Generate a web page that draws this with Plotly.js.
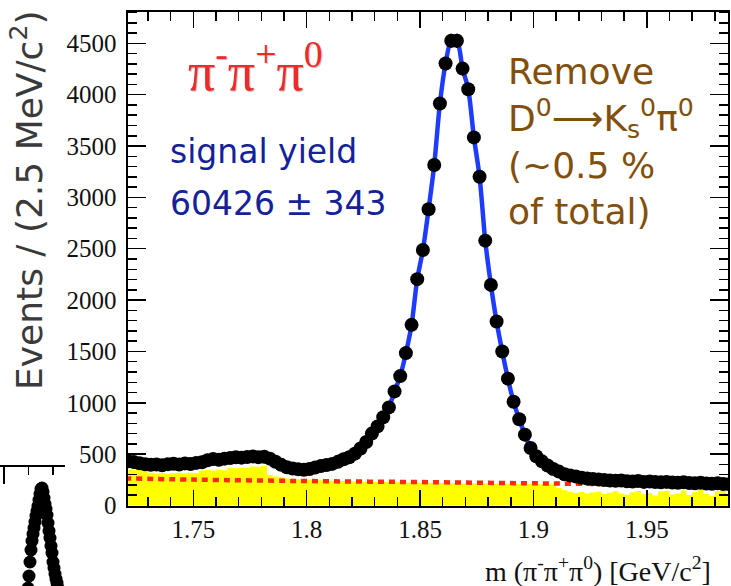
<!DOCTYPE html>
<html>
<head>
<meta charset="utf-8">
<script src="https://cdn.plot.ly/plotly-3.0.1.min.js"></script>
<style>
  html, body { margin: 0; padding: 0; background: #ffffff; }
  #chart { width: 731px; height: 586px; }
</style>
</head>
<body>
<div id="chart"></div>
<script>
// ---- histogram binning (2.5 MeV bins starting at 1.72 GeV) ----
const binStart = 1.72;
const binWidth = 0.0025;

// ---- data: events per bin ----
const counts = [
  430, 424, 412, 402, 396, 399, 392, 401, 406, 398,
  410, 403, 415, 421, 440, 452, 446, 456, 462, 470,
  466, 472, 478, 471, 475, 456, 426, 396, 372, 360,
  352, 348, 355, 370, 385, 395, 405, 425, 450, 470,
  505, 555, 618, 700, 770, 860, 955, 1111, 1260, 1484,
  1759, 2204, 2488, 2884, 3315, 3914, 4303, 4525, 4525, 4254,
  4053, 3584, 3201, 2579, 2148, 1791, 1500, 1235, 1010, 840,
  690, 560, 479, 430, 390, 355, 330, 305, 292, 282,
  270, 263, 258, 252, 248, 244, 240, 244, 236, 234,
  238, 230, 233, 228, 226, 230, 224, 221, 226, 219,
  217, 221, 214, 212, 216, 210, 208
];

// ---- yellow background histogram per bin ----
const bkgHist = [
  345, 348, 362, 358, 318, 312, 316, 310, 314, 318,
  312, 320, 316, 342, 346, 340, 348, 344, 364, 362,
  368, 366, 380, 378, 384, 300, 282, 276, 262, 258,
  255, 252, 250, 248, 246, 244, 242, 240, 238, 236,
  234, 233, 232, 231, 230, 229, 228, 227, 226, 225,
  224, 223, 222, 221, 220, 219, 218, 217, 216, 215,
  215, 214, 214, 213, 213, 212, 212, 211, 211, 210,
  210, 209, 209, 208, 208, 207, 170, 148, 132, 122,
  134, 118, 126, 134, 112, 124, 138, 116, 104, 128,
  142, 110, 122, 98, 136, 144, 108, 118, 146, 102,
  128, 150, 112, 96, 138, 148, 110
];

// ---- red dotted component (read at a few masses) ----
const redMass  = [1.715, 1.75, 1.80, 1.85, 1.90, 1.95, 1.99];
const redLevel = [266, 252, 238, 228, 216, 206, 200];

// ---- partial neighbouring plot visible at bottom-left ----
const insetX = [27,28,29,30,31,32,33,34,35,36,37,38,39,40,41,42,43,44,45,46,47,48,49,50,51,52,53,54,55,56,57,58];
const insetY = [-8,-2,10,24,36,45,52,58,64,70,75,80,86,92,97,98,94,88,82,77,71,63,55,48,40,33,24,18,12,7,3,-2];

// ---- tick settings ----
const xTick0 = 1.75, xDtick = 0.05, xMinor = 0.01;
const yDtick = 500, yMinor = 100;

const massBins = counts.map((_, i) => +(binStart + binWidth * (i + 0.5)).toFixed(5));

const W = 731, H = 586;
const px = v => v / W;
const py = v => 1 - v / H;

const traces = [
  { // yellow background histogram
    x: massBins, y: bkgHist, type: 'scatter', mode: 'lines',
    line: { shape: 'hvh', width: 0, color: '#ffff00' },
    fill: 'tozeroy', fillcolor: '#ffff00', hoverinfo: 'skip'
  },
  { // red dotted component
    x: redMass, y: redLevel, type: 'scatter', mode: 'lines',
    line: { color: '#ff2a10', width: 4.5, dash: '6px,5px', shape: 'spline' }
  },
  { // blue total fit curve
    x: massBins, y: counts, type: 'scatter', mode: 'lines',
    line: { color: '#1e3cff', width: 4.5, shape: 'spline', smoothing: 0.8 }
  },
  { // data points
    x: massBins, y: counts, type: 'scatter', mode: 'markers',
    marker: { color: '#000000', size: 14, symbol: 'circle' },
    error_y: { type: 'sqrt', color: '#000000', thickness: 2, width: 0 }
  },
  { // neighbouring plot fragment
    x: insetX, y: insetY, xaxis: 'x2', yaxis: 'y2', type: 'scatter', mode: 'markers',
    marker: { color: '#000000', size: 13 }
  }
];

const tickFont = { family: 'Liberation Serif, Times New Roman, serif', size: 25, color: '#111111' };

const layout = {
  width: W, height: H,
  margin: { l: 0, r: 0, t: 0, b: 0, pad: 0 },
  paper_bgcolor: '#ffffff', plot_bgcolor: '#ffffff',
  showlegend: false,
  xaxis: {
    domain: [127.6 / W, 728.4 / W], range: [1.721, 1.986],
    showline: true, linecolor: '#000', linewidth: 2, mirror: 'allticks',
    ticks: 'inside', ticklen: 16, tickwidth: 1.5, tickcolor: '#000',
    tick0: xTick0, dtick: xDtick,
    minor: { ticks: 'inside', dtick: xMinor, ticklen: 9, tickwidth: 1.5, tickcolor: '#000' },
    showgrid: false, zeroline: false,
    tickfont: tickFont, ticklabelstandoff: 0
  },
  yaxis: {
    domain: [(H - 505.5) / H, (H - 11.5) / H], range: [0, 4810],
    showline: true, linecolor: '#000', linewidth: 2, mirror: 'allticks',
    ticks: 'inside', ticklen: 18, tickwidth: 1.5, tickcolor: '#000',
    tick0: 0, dtick: yDtick,
    minor: { ticks: 'inside', dtick: yMinor, ticklen: 9, tickwidth: 1.5, tickcolor: '#000' },
    showgrid: false, zeroline: false,
    tickfont: tickFont, ticklabelstandoff: 4
  },
  xaxis2: {
    domain: [0, 65 / W], range: [0, 65], anchor: 'y2', side: 'top',
    showline: true, linecolor: '#000', linewidth: 2,
    ticks: 'inside', tickvals: [4], ticklen: 17, tickwidth: 1.5, tickcolor: '#000',
    minor: { ticks: 'inside', tickvals: [28.5, 53], ticklen: 8, tickwidth: 1.5, tickcolor: '#000' },
    showticklabels: false, showgrid: false, zeroline: false
  },
  yaxis2: {
    domain: [0, (H - 466.7) / H], range: [0, 119.3], anchor: 'x2', visible: false
  },
  annotations: [
    {
      xref: 'paper', yref: 'paper', x: px(186), y: py(68), xanchor: 'left', yanchor: 'middle',
      text: 'π<sup>-</sup>π<sup>+</sup>π<sup>0</sup>', showarrow: false,
      font: { family: 'Liberation Serif, Times New Roman, serif', size: 54, color: '#ee2a2a',
              shadow: '1px 1px 1px rgba(0,0,0,0.25)' }
    },
    {
      xref: 'paper', yref: 'paper', x: px(168), y: py(151.5), xanchor: 'left', yanchor: 'middle',
      text: 'signal yield', showarrow: false,
      font: { family: 'DejaVu Sans, sans-serif', size: 33, color: '#14229a' }
    },
    {
      xref: 'paper', yref: 'paper', x: px(168), y: py(203.5), xanchor: 'left', yanchor: 'middle',
      text: '60426 ± 343', showarrow: false,
      font: { family: 'DejaVu Sans, sans-serif', size: 33, color: '#14229a' }
    },
    {
      xref: 'paper', yref: 'paper', x: px(506), y: py(141), xanchor: 'left', yanchor: 'middle', align: 'left',
      text: 'Remove<br>D<sup>0</sup>⟶K<sub>s</sub><sup>0</sup>π<sup>0</sup><br>(~0.5 %<br>of total)',
      showarrow: false,
      font: { family: 'DejaVu Sans, sans-serif', size: 36, color: '#834f0c' }
    },
    {
      xref: 'paper', yref: 'paper', x: px(27), y: py(201), xanchor: 'center', yanchor: 'middle',
      textangle: -90, text: 'Events / (2.5 MeV/c<sup>2</sup>)', showarrow: false,
      font: { family: 'DejaVu Sans, sans-serif', size: 36, color: '#3a3a3a' }
    },
    {
      xref: 'paper', yref: 'paper', x: px(713), y: py(569), xanchor: 'right', yanchor: 'middle',
      text: 'm (π<sup>-</sup>π<sup>+</sup>π<sup>0</sup>) [GeV/c<sup>2</sup>]', showarrow: false,
      font: { family: 'Liberation Serif, Times New Roman, serif', size: 28, color: '#111111' }
    }
  ]
};

Plotly.newPlot('chart', traces, layout, { staticPlot: true, displayModeBar: false });
</script>
</body>
</html>
